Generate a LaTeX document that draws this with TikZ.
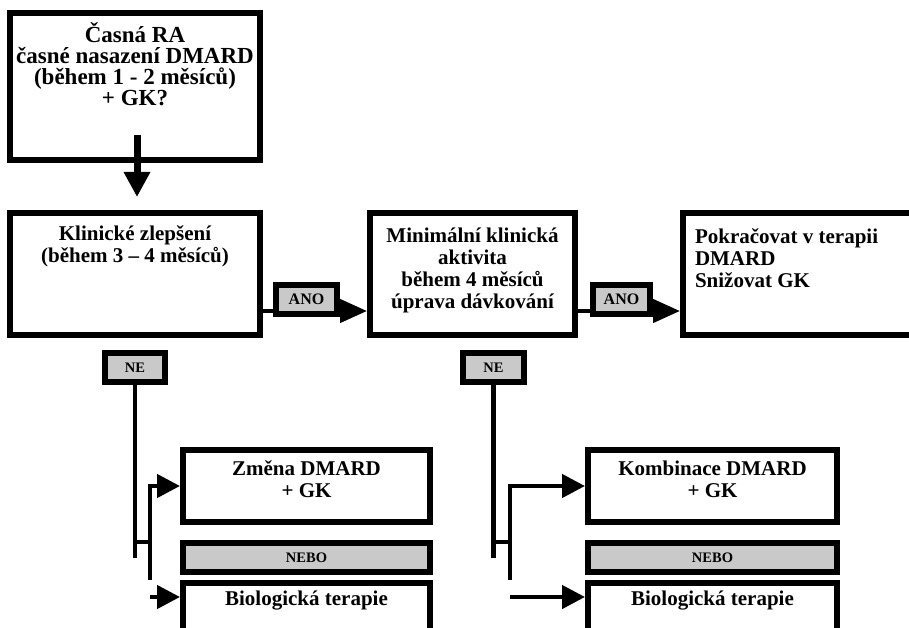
\documentclass[tikz,border=0pt]{standalone}
\usepackage{fontspec}
\setmainfont{Liberation Serif}
\usepackage{tikz}
\usetikzlibrary{positioning}
\usetikzlibrary{arrows.meta}
\usetikzlibrary{calc}
\newcommand{\boxtxt}[5][\centering]{\parbox[c][#3][t]{#2}{#1\lineskiplimit=-20pt\rule{0pt}{#4}#5}}
\tikzstyle{bigbox}=[rectangle,draw,line width=6pt,inner sep=0pt,fill=white,font=\bfseries\fontsize{21}{22}\selectfont]
\tikzset{tag/.style={rectangle,draw,line width=6pt,fill=black!21,inner sep=0pt,minimum height=29pt,font=\bfseries\fontsize{14.5}{15}\selectfont}}
\tikzset{conn/.style={line width=4.5pt}}
\tikzset{arr/.style={conn,-{Triangle[length=23pt,width=23pt]}}}

\begin{document}
\begin{tikzpicture}[x=1pt, y=-1pt]
    \useasboundingbox (0,0) rectangle (909,628);

    \node[bigbox, font=\bfseries\fontsize{23}{21}\selectfont] (ra) at (135,86.5) {\boxtxt{250pt}{147pt}{30pt}{Časná RA\\ časné nasazení DMARD\\ (během 1 - 2 měsíců)\\ + GK?}};
    \node[bigbox] (klin) at (135,274) {\boxtxt{250pt}{122pt}{27pt}{Klinické zlepšení\\ (během 3 – 4 měsíců)}};
    \node[bigbox] (mini) at (472.5,274) {\boxtxt{205pt}{122pt}{29pt}{Minimální klinická\\ aktivita\\ během 4 měsíců\\ úprava dávkování}};
    \node[bigbox] (pokr) at (801.5,274) {\boxtxt[\raggedright\leftskip=12pt]{237pt}{122pt}{30pt}{Pokračovat v terapii\\ DMARD\\ Snižovat GK}};

    \node[bigbox] (zmena) at (306.5,486) {\boxtxt{247pt}{72pt}{25pt}{Změna DMARD\\ + GK}};
    \node[tag, minimum width=247pt] (nebo1) at (306.5,557.5) {NEBO};
    \node[bigbox] (bio1) at (306.5,616.5) {\boxtxt{247pt}{67pt}{22pt}{Biologická terapie}};

    \node[bigbox] (komb) at (712.5,486) {\boxtxt{249pt}{72pt}{25pt}{Kombinace DMARD\\ + GK}};
    \node[tag, minimum width=249pt] (nebo2) at (712.5,557.5) {NEBO};
    \node[bigbox] (bio2) at (712.5,616.5) {\boxtxt{249pt}{67pt}{22pt}{Biologická terapie}};

    % main flow
    \draw[conn, line width=7pt, -{Triangle[length=25pt,width=25pt]}] ([xshift=2pt,yshift=28pt]ra.south) -- ([xshift=2pt,yshift=13pt]klin.north);
    \draw[arr, -{Triangle[length=27pt,width=23pt]}] ([yshift=-37pt]klin.east) -- ([yshift=-37pt]mini.west);
    \draw[arr, -{Triangle[length=27pt,width=23pt]}] ([yshift=-37pt]mini.east) -- ([yshift=-37pt]pokr.west);

    \node[tag, minimum width=61pt, font=\bfseries\fontsize{16}{16}\selectfont] (ano1) at (306.5,299.5) {ANO};
    \node[tag, minimum width=57pt, font=\bfseries\fontsize{16}{16}\selectfont] (ano2) at (621.5,299.5) {ANO};
    \node[tag, minimum width=60pt] (ne1) at (135,367.5) {NE};
    \node[tag, minimum width=61pt] (ne2) at (493.5,367.5) {NE};

    % NE branches
    \coordinate (s1) at (150,542);
    \coordinate (b1) at (150,580);
    \coordinate (c1) at (150,597);
    \draw[conn] (ne1.south) -- (ne1.south |- nebo1.center);
    \draw[conn] (ne1.south |- s1) -- (s1);
    \draw[arr] (b1) |- (zmena.west);
    \draw[arr] (c1) -- (c1 -| bio1.west);

    \coordinate (s2) at (510,542);
    \coordinate (b2) at (510,580);
    \coordinate (c2) at (510,597);
    \draw[conn] (ne2.south) -- (ne2.south |- nebo2.center);
    \draw[conn] (ne2.south |- s2) -- (s2);
    \draw[arr] (b2) |- (komb.west);
    \draw[arr] (c2) -- (c2 -| bio2.west);

\end{tikzpicture}
\end{document}
